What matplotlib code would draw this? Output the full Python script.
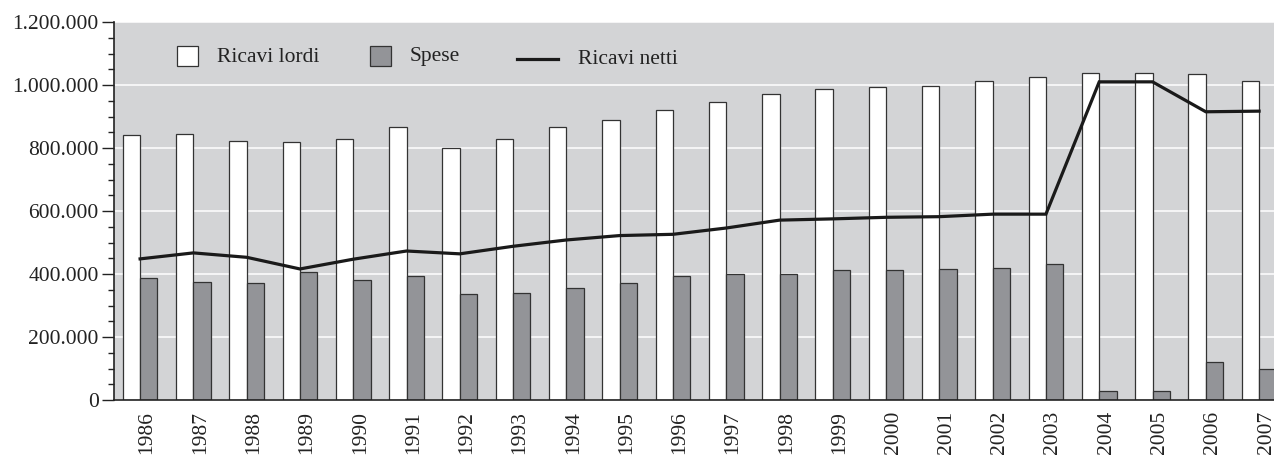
import matplotlib
matplotlib.use("Agg")
import matplotlib.pyplot as plt
import numpy as np
from matplotlib.ticker import MultipleLocator, FuncFormatter
from matplotlib.patches import Rectangle
from matplotlib.lines import Line2D

years = ["1986", "1987", "1988", "1989", "1990", "1991", "1992", "1993", "1994", "1995", "1996",
         "1997", "1998", "1999", "2000", "2001", "2002", "2003", "2004", "2005", "2006", "2007"]
ricavi_lordi = [840000, 844000, 822000, 820000, 827000, 868000, 801000, 830000, 866000, 890000, 921000,
                946000, 972000, 988000, 994000, 998000, 1014000, 1025000, 1037000, 1037000, 1035000, 1014000]
spese = [388000, 376000, 370000, 405000, 381000, 394000, 336000, 341000, 357000, 370000, 394000,
         400000, 400000, 412000, 414000, 416000, 420000, 432000, 30000, 27000, 121000, 99000]
ricavi_netti = [448000, 467000, 453000, 416000, 447000, 473000, 464000, 488000, 508000, 522000, 526000,
                546000, 571000, 575000, 580000, 582000, 590000, 590000, 1010000, 1010000, 915000, 917000]

plt.rcParams['font.family'] = ['Liberation Serif', 'DejaVu Serif']

W, H = 1274, 455
fig = plt.figure(figsize=(W / 100, H / 100), dpi=100)
ax = fig.add_axes([114 / W, 1 - 400 / H, (W - 114) / W, (400 - 22) / H])

bg = '#d3d4d6'
grey = '#939498'
edge = '#333333'
ax.set_facecolor(bg)

x = np.arange(len(years))
bw = 0.325
ax.bar(x - bw / 2, ricavi_lordi, width=bw, color='white', edgecolor=edge, linewidth=0.9, zorder=2)
ax.bar(x + bw / 2, spese, width=bw, color=grey, edgecolor=edge, linewidth=0.9, zorder=2)
ax.plot(x, ricavi_netti, color='#1a1a1a', linewidth=2.3, zorder=3, solid_joinstyle='miter')

ax.set_ylim(0, 1200000)
ax.set_xlim(-0.49, 21.28)
ax.yaxis.set_major_locator(MultipleLocator(200000))
ax.yaxis.set_minor_locator(MultipleLocator(50000))
ax.yaxis.set_major_formatter(FuncFormatter(lambda v, p: f"{int(v):,}".replace(",", ".")))
ax.grid(axis='y', which='major', color='white', linewidth=1.1, zorder=1)
ax.set_axisbelow(True)

ax.set_xticks(x + 0.13)
ax.set_xticklabels(years, rotation=90, fontsize=15.5, color='#222222')
ax.tick_params(axis='x', length=0, pad=8)
ax.tick_params(axis='y', which='major', length=9, width=1, color='#222222', labelsize=15.5,
               labelcolor='#222222', pad=2)
ax.tick_params(axis='y', which='minor', length=4.5, width=1, color='#222222')

for s in ['top', 'right']:
    ax.spines[s].set_visible(False)
for s in ['left', 'bottom']:
    ax.spines[s].set_color('#222222')
    ax.spines[s].set_linewidth(1.2)

# legend (manual layout)
def fx(px):
    return px / W

def fy(py):
    return 1 - py / H

fig.patches.append(Rectangle((fx(177), fy(66)), 21 / W, 20 / H, transform=fig.transFigure,
                             facecolor='white', edgecolor=edge, linewidth=0.9, zorder=5))
fig.text(fx(217), fy(57), "Ricavi lordi", fontsize=15.5, va='center', ha='left', color='#222222')
fig.patches.append(Rectangle((fx(370), fy(66)), 21 / W, 20 / H, transform=fig.transFigure,
                             facecolor=grey, edgecolor=edge, linewidth=0.9, zorder=5))
fig.text(fx(410), fy(57), "Spese", fontsize=15.5, va='center', ha='left', color='#222222')
fig.lines.append(Line2D([fx(517), fx(558)], [fy(59), fy(59)], transform=fig.transFigure,
                        color='#1a1a1a', linewidth=2.3))
fig.text(fx(578), fy(60), "Ricavi netti", fontsize=15.5, va='center', ha='left', color='#222222')

fig.savefig("out.png", dpi=100, facecolor='white')
